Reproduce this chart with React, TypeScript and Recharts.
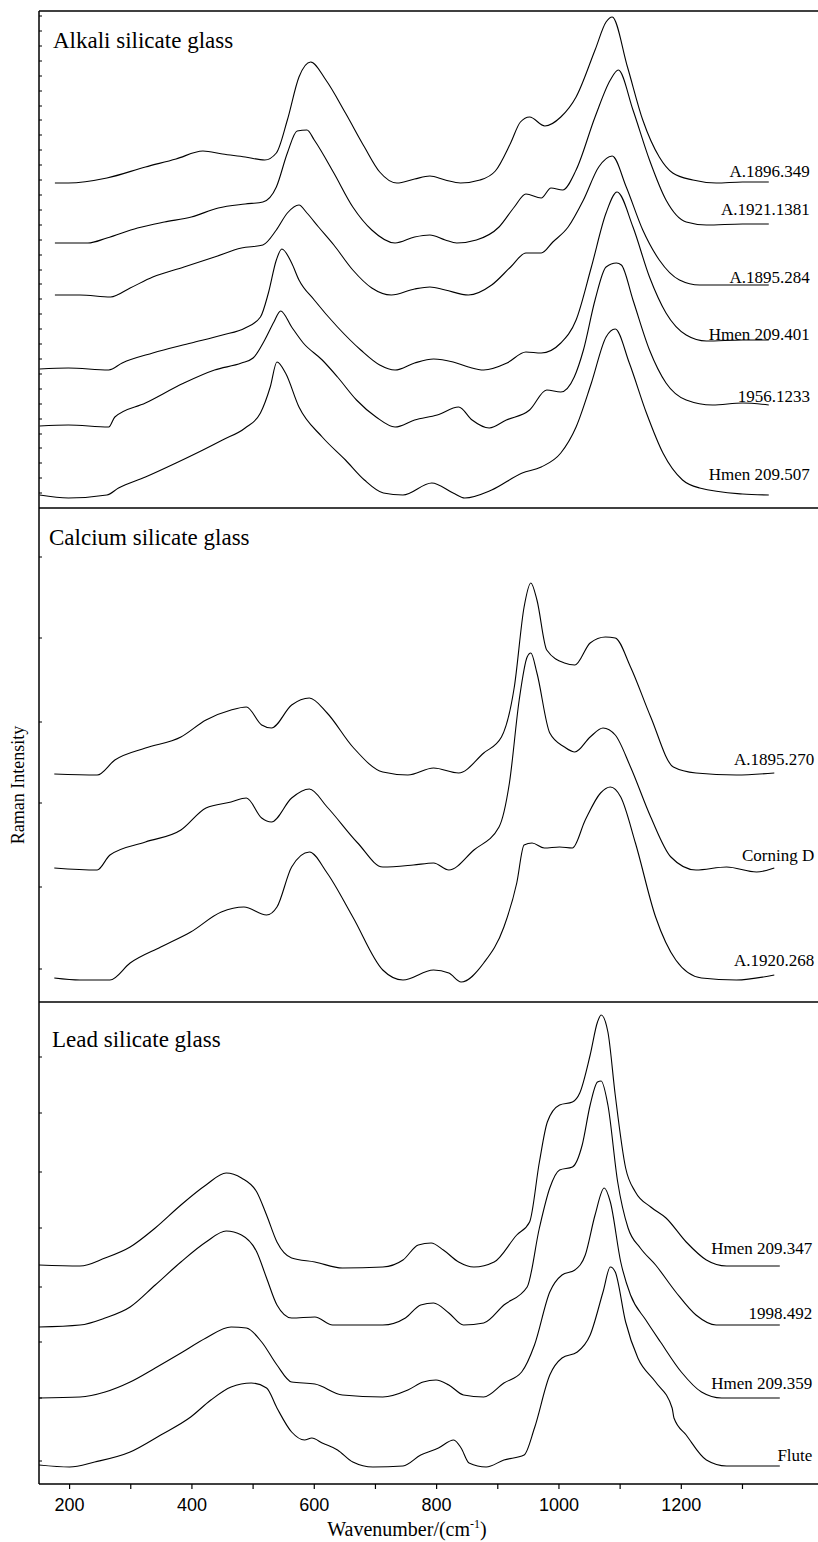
import React from "react";
import { LineChart, Line, XAxis, YAxis, ReferenceDot } from "recharts";

type Pt = [number, number];

// wavenumber (cm-1) vs stacked Raman intensity (a.u., offset included)

// ---- Alkali silicate glass
const a1896_349: Pt[] = [
  [176, 325], [198, 325], [261, 330], [324, 341], [374, 349], [418, 357], [450, 354],
  [487, 351], [519, 348], [538, 355], [556, 388], [575, 431], [594, 446], [619, 428],
  [651, 395], [682, 361], [707, 336], [735, 325], [764, 329], [789, 332], [814, 328],
  [839, 325], [871, 328], [896, 337], [921, 365], [937, 386], [952, 391], [977, 382],
  [1003, 391], [1028, 411], [1059, 458], [1077, 486], [1087, 491], [1112, 441],
  [1137, 388], [1164, 351], [1186, 335], [1219, 328], [1257, 325], [1300, 326], [1343, 326],
];
const a1921_1381: Pt[] = [
  [176, 265], [230, 265], [261, 270], [311, 280], [355, 286], [399, 291], [443, 300],
  [487, 304], [516, 306], [538, 321], [556, 355], [572, 377], [588, 378], [600, 368],
  [632, 335], [663, 301], [694, 278], [732, 265], [764, 271], [789, 273], [814, 268],
  [833, 265], [865, 268], [902, 281], [927, 301], [946, 314], [971, 310], [987, 320],
  [1006, 318], [1028, 338], [1059, 391], [1084, 428], [1097, 438], [1121, 398],
  [1148, 348], [1175, 308], [1208, 286], [1241, 283], [1300, 284], [1343, 284],
];
const a1895_284: Pt[] = [
  [176, 213], [217, 213], [267, 211], [299, 220], [336, 231], [387, 241], [437, 251],
  [481, 260], [516, 263], [538, 278], [556, 295], [575, 303], [588, 295], [607, 281],
  [632, 263], [663, 238], [694, 220], [726, 213], [764, 219], [789, 221], [814, 218],
  [852, 213], [890, 223], [921, 241], [946, 255], [971, 255], [990, 266], [1015, 281],
  [1040, 308], [1065, 341], [1087, 352], [1110, 321], [1137, 278], [1164, 248],
  [1197, 228], [1230, 223], [1300, 223], [1343, 223],
];
const h209_401: Pt[] = [
  [151, 139], [198, 140], [264, 138], [286, 145], [336, 155], [399, 165], [450, 173],
  [487, 180], [512, 191], [525, 215], [538, 248], [547, 259], [563, 245], [575, 228],
  [600, 208], [638, 181], [676, 158], [707, 143], [732, 138], [764, 145], [795, 149],
  [827, 146], [852, 141], [877, 138], [915, 145], [946, 156], [971, 155], [1003, 165],
  [1028, 188], [1053, 241], [1077, 295], [1095, 316], [1121, 281], [1148, 231],
  [1175, 195], [1208, 173], [1241, 167], [1300, 168], [1343, 168],
];
const s1956_1233: Pt[] = [
  [151, 82], [198, 83], [264, 81], [274, 91], [324, 105], [387, 125], [437, 138],
  [481, 145], [500, 150], [519, 168], [534, 186], [545, 197], [563, 181], [582, 165],
  [613, 148], [638, 131], [669, 108], [701, 91], [732, 81], [764, 88], [801, 93],
  [836, 101], [858, 88], [886, 80], [914, 88], [952, 98], [980, 118], [1003, 116],
  [1025, 131], [1040, 158], [1059, 208], [1077, 241], [1094, 245], [1102, 243],
  [1121, 208], [1148, 158], [1175, 125], [1208, 108], [1251, 103], [1300, 105], [1343, 103],
];
const h209_507: Pt[] = [
  [151, 13], [198, 10], [261, 13], [280, 20], [324, 31], [374, 45], [418, 58],
  [450, 68], [487, 80], [512, 95], [528, 121], [539, 146], [553, 135], [575, 101],
  [613, 71], [651, 48], [682, 28], [713, 15], [745, 13], [792, 25], [827, 15],
  [846, 10], [890, 18], [940, 35], [971, 41], [1003, 55], [1028, 81], [1053, 125],
  [1077, 171], [1092, 179], [1115, 145], [1143, 95], [1170, 55], [1202, 28],
  [1230, 20], [1300, 14], [1343, 13],
];
const alkaliNames = ["A.1896.349", "A.1921.1381", "A.1895.284", "Hmen 209.401", "1956.1233", "Hmen 209.507"];
const alkaliSeries = [a1896_349, a1921_1381, a1895_284, h209_401, s1956_1233, h209_507];
const alkaliLabelLevels = [337, 299, 231, 174, 112, 34];

// ---- Calcium silicate glass
const a1895_270: Pt[] = [
  [175, 228], [245, 227], [274, 242], [324, 254], [382, 265], [423, 282], [464, 292],
  [489, 295], [514, 277], [530, 274], [563, 297], [592, 304], [621, 289], [663, 255],
  [712, 230], [753, 227], [795, 234], [836, 229], [877, 249], [906, 265], [927, 315],
  [943, 395], [954, 419], [964, 402], [980, 352], [1009, 339], [1026, 337], [1051, 359],
  [1076, 365], [1092, 364], [1117, 335], [1150, 285], [1187, 235], [1224, 229],
  [1290, 227], [1352, 229],
];
const corningD: Pt[] = [
  [175, 134], [245, 132], [266, 147], [324, 160], [382, 172], [423, 194], [464, 200],
  [489, 204], [514, 184], [530, 180], [563, 204], [592, 213], [621, 195], [671, 159],
  [712, 135], [762, 137], [795, 139], [820, 132], [861, 152], [902, 175], [919, 219],
  [935, 302], [948, 345], [954, 349], [964, 329], [985, 269], [1009, 255], [1026, 250],
  [1051, 265], [1072, 274], [1092, 267], [1117, 235], [1150, 185], [1183, 145],
  [1224, 132], [1274, 135], [1323, 130], [1352, 134],
];
const a1920_268: Pt[] = [
  [175, 24], [217, 22], [266, 22], [299, 39], [349, 55], [398, 70], [448, 90],
  [485, 95], [522, 87], [539, 95], [563, 135], [592, 150], [621, 129], [663, 85],
  [712, 32], [745, 22], [795, 32], [820, 29], [840, 20], [877, 39], [910, 75],
  [931, 119], [943, 157], [956, 159], [976, 154], [1001, 155], [1022, 154], [1043, 182],
  [1068, 209], [1084, 215], [1101, 205], [1125, 159], [1158, 85], [1191, 42],
  [1233, 24], [1290, 22], [1352, 27],
];
const calciumNames = ["A.1895.270", "Corning D", "A.1920.268"];
const calciumSeries = [a1895_270, corningD, a1920_268];
const calciumLabelLevels = [243, 147, 42];

// ---- Lead silicate glass
const h209_347: Pt[] = [
  [150, 219], [217, 218], [258, 226], [299, 237], [340, 256], [382, 279], [423, 299],
  [456, 311], [481, 306], [506, 292], [522, 269], [539, 242], [563, 226], [601, 222],
  [646, 216], [712, 217], [745, 224], [770, 239], [791, 241], [811, 234], [836, 222],
  [861, 217], [894, 222], [931, 249], [952, 262], [968, 322], [981, 362], [1001, 379],
  [1022, 382], [1034, 391], [1051, 429], [1063, 462], [1069, 469], [1080, 452],
  [1092, 389], [1109, 316], [1125, 292], [1150, 277], [1175, 266], [1208, 242],
  [1241, 224], [1274, 218], [1361, 218],
];
const s1998_492: Pt[] = [
  [150, 157], [217, 159], [258, 166], [299, 177], [340, 199], [382, 222], [423, 242],
  [456, 253], [481, 249], [506, 232], [522, 206], [539, 179], [563, 166], [601, 167],
  [630, 159], [712, 159], [749, 166], [774, 179], [795, 181], [820, 171], [844, 159],
  [877, 161], [910, 179], [948, 197], [968, 256], [985, 296], [1001, 314], [1022, 317],
  [1038, 339], [1051, 379], [1063, 402], [1069, 403], [1080, 379], [1096, 302],
  [1113, 256], [1133, 236], [1158, 219], [1191, 192], [1224, 169], [1257, 159], [1361, 159],
];
const h209_359: Pt[] = [
  [150, 86], [217, 87], [258, 92], [299, 102], [340, 116], [382, 131], [423, 146],
  [464, 157], [489, 156], [514, 142], [539, 119], [563, 102], [601, 100], [646, 89],
  [712, 87], [753, 94], [778, 102], [799, 104], [820, 99], [844, 89], [877, 87],
  [910, 101], [939, 112], [960, 139], [985, 192], [1005, 209], [1026, 214], [1043, 229],
  [1059, 269], [1074, 296], [1084, 282], [1101, 222], [1117, 189], [1142, 164],
  [1166, 142], [1200, 112], [1233, 92], [1266, 86], [1361, 86],
];
const flute: Pt[] = [
  [150, 19], [200, 17], [241, 22], [299, 32], [349, 49], [398, 67], [431, 84],
  [464, 97], [497, 101], [522, 96], [539, 76], [563, 52], [584, 44], [596, 46],
  [613, 41], [638, 34], [663, 22], [696, 17], [745, 18], [774, 29], [803, 36],
  [828, 44], [840, 36], [853, 21], [881, 17], [910, 24], [943, 29], [960, 56],
  [985, 109], [1005, 126], [1030, 132], [1051, 149], [1072, 192], [1084, 217],
  [1092, 212], [1109, 162], [1129, 126], [1158, 102], [1185, 76], [1188, 66],
  [1208, 49], [1241, 24], [1274, 18], [1361, 18],
];
const leadNames = ["Hmen 209.347", "1998.492", "Hmen 209.359", "Flute"];
const leadSeries = [h209_347, s1998_492, h209_359, flute];
const leadLabelLevels = [236, 171, 101, 29];

const xDomain: [number, number] = [150, 1430];
const xTicks = [200, 300, 400, 500, 600, 700, 800, 900, 1000, 1100, 1200, 1300];
const alkaliYTicks = [15, 30, 45, 60, 74, 89, 104, 119, 134, 149, 164, 179, 194, 209, 224, 238, 253,
  268, 283, 298, 313, 328, 343, 358, 373, 388, 402, 417, 432, 447, 462, 477, 492];
const calciumYTicks = [33, 115, 199, 280, 364, 445];
const leadYTicks = [23, 86, 142, 197, 256, 312, 371, 427];

const SERIF = '"Liberation Serif", "Times New Roman", serif';
const SANS = '"Liberation Sans", Arial, sans-serif';
const CHART_W = 822;
const blank = () => "";
const frameLine = { stroke: "#000", strokeWidth: 1.5 };

interface PanelProps {
  series: Pt[][];
  names: string[];
  labelLevels: number[];
  labelX: number;
  yMax: number;
  yTicks: number[];
  top: number;
  height: number;
  marginTop: number;
  withBottomAxis?: boolean;
}

function Panel(p: PanelProps) {
  return (
    <div style={{ position: "absolute", left: 0, top: p.top }}>
      <LineChart
        width={CHART_W}
        height={p.height}
        margin={{ top: p.marginTop - 1, right: 0, left: 39, bottom: p.withBottomAxis ? 18 : 0 }}
      >
        <XAxis
          xAxisId="top"
          orientation="top"
          type="number"
          dataKey="w"
          domain={xDomain}
          allowDataOverflow
          ticks={xTicks}
          interval={0}
          tickFormatter={blank}
          tick={{ fontSize: 1 }}
          height={1}
          tickLine={false}
          axisLine={frameLine}
        />
        {p.withBottomAxis && (
          <XAxis
            xAxisId="bottom"
            orientation="bottom"
            type="number"
            dataKey="w"
            domain={xDomain}
            allowDataOverflow
            ticks={xTicks}
            interval={0}
            height={40}
            tickSize={5}
            tickMargin={9}
            tickFormatter={(t: number) => (t % 200 === 0 ? String(t) : "")}
            tick={{ fill: "#000", fontSize: 18, fontFamily: SANS }}
            axisLine={frameLine}
            tickLine={{ stroke: "#000", strokeWidth: 1.2 }}
          />
        )}
        <YAxis
          type="number"
          domain={[0, p.yMax]}
          allowDataOverflow
          ticks={p.yTicks}
          interval={0}
          tickFormatter={blank}
          tick={{ fontSize: 1 }}
          mirror
          width={1}
          tickSize={3}
          axisLine={frameLine}
          tickLine={{ stroke: "#000", strokeWidth: 1 }}
        />
        {p.series.map((pts, i) => (
          <Line
            key={p.names[i]}
            xAxisId="top"
            data={pts.map(([w, v]) => ({ w, v }))}
            dataKey="v"
            type="monotone"
            stroke="#000"
            strokeWidth={1.1}
            dot={false}
            activeDot={false}
            isAnimationActive={false}
          />
        ))}
        {p.names.map((name, i) => (
          <ReferenceDot
            key={"lbl" + name}
            xAxisId="top"
            x={p.labelX}
            y={p.labelLevels[i]}
            r={0}
            fill="none"
            stroke="none"
            ifOverflow="visible"
            label={{
              value: name,
              position: "left",
              offset: 6,
              fill: "#000",
              fontSize: 17,
              fontFamily: SERIF,
            }}
          />
        ))}
      </LineChart>
    </div>
  );
}

export default function App() {
  return (
    <div
      style={{
        position: "absolute",
        left: 0,
        top: 0,
        width: 818,
        height: 1542,
        overflow: "hidden",
        background: "#fff",
      }}
    >
      <Panel
        series={alkaliSeries}
        names={alkaliNames}
        labelLevels={alkaliLabelLevels}
        labelX={1420}
        yMax={497}
        yTicks={alkaliYTicks}
        top={0}
        height={508}
        marginTop={11}
      />
      <Panel
        series={calciumSeries}
        names={calciumNames}
        labelLevels={calciumLabelLevels}
        labelX={1427}
        yMax={494}
        yTicks={calciumYTicks}
        top={500}
        height={502}
        marginTop={8}
      />
      <Panel
        series={leadSeries}
        names={leadNames}
        labelLevels={leadLabelLevels}
        labelX={1424}
        yMax={482}
        yTicks={leadYTicks}
        top={994}
        height={548}
        marginTop={8}
        withBottomAxis
      />
      <svg
        width={818}
        height={1542}
        style={{ position: "absolute", left: 0, top: 0, pointerEvents: "none" }}
      >
        <g fontFamily={SERIF} fill="#000">
          <text x={53} y={48} fontSize={23}>Alkali silicate glass</text>
          <text x={49} y={545} fontSize={23}>Calcium silicate glass</text>
          <text x={52} y={1047} fontSize={23}>Lead silicate glass</text>
          <text
            transform="translate(18,785) rotate(-90)"
            textAnchor="middle"
            dominantBaseline="central"
            fontSize={18}
          >
            Raman Intensity
          </text>
          <text x={407} y={1536} textAnchor="middle" fontSize={20}>
            Wavenumber/(cm
            <tspan fontSize={12} dy={-8}>-1</tspan>
            <tspan dy={8}>)</tspan>
          </text>
        </g>
      </svg>
    </div>
  );
}
